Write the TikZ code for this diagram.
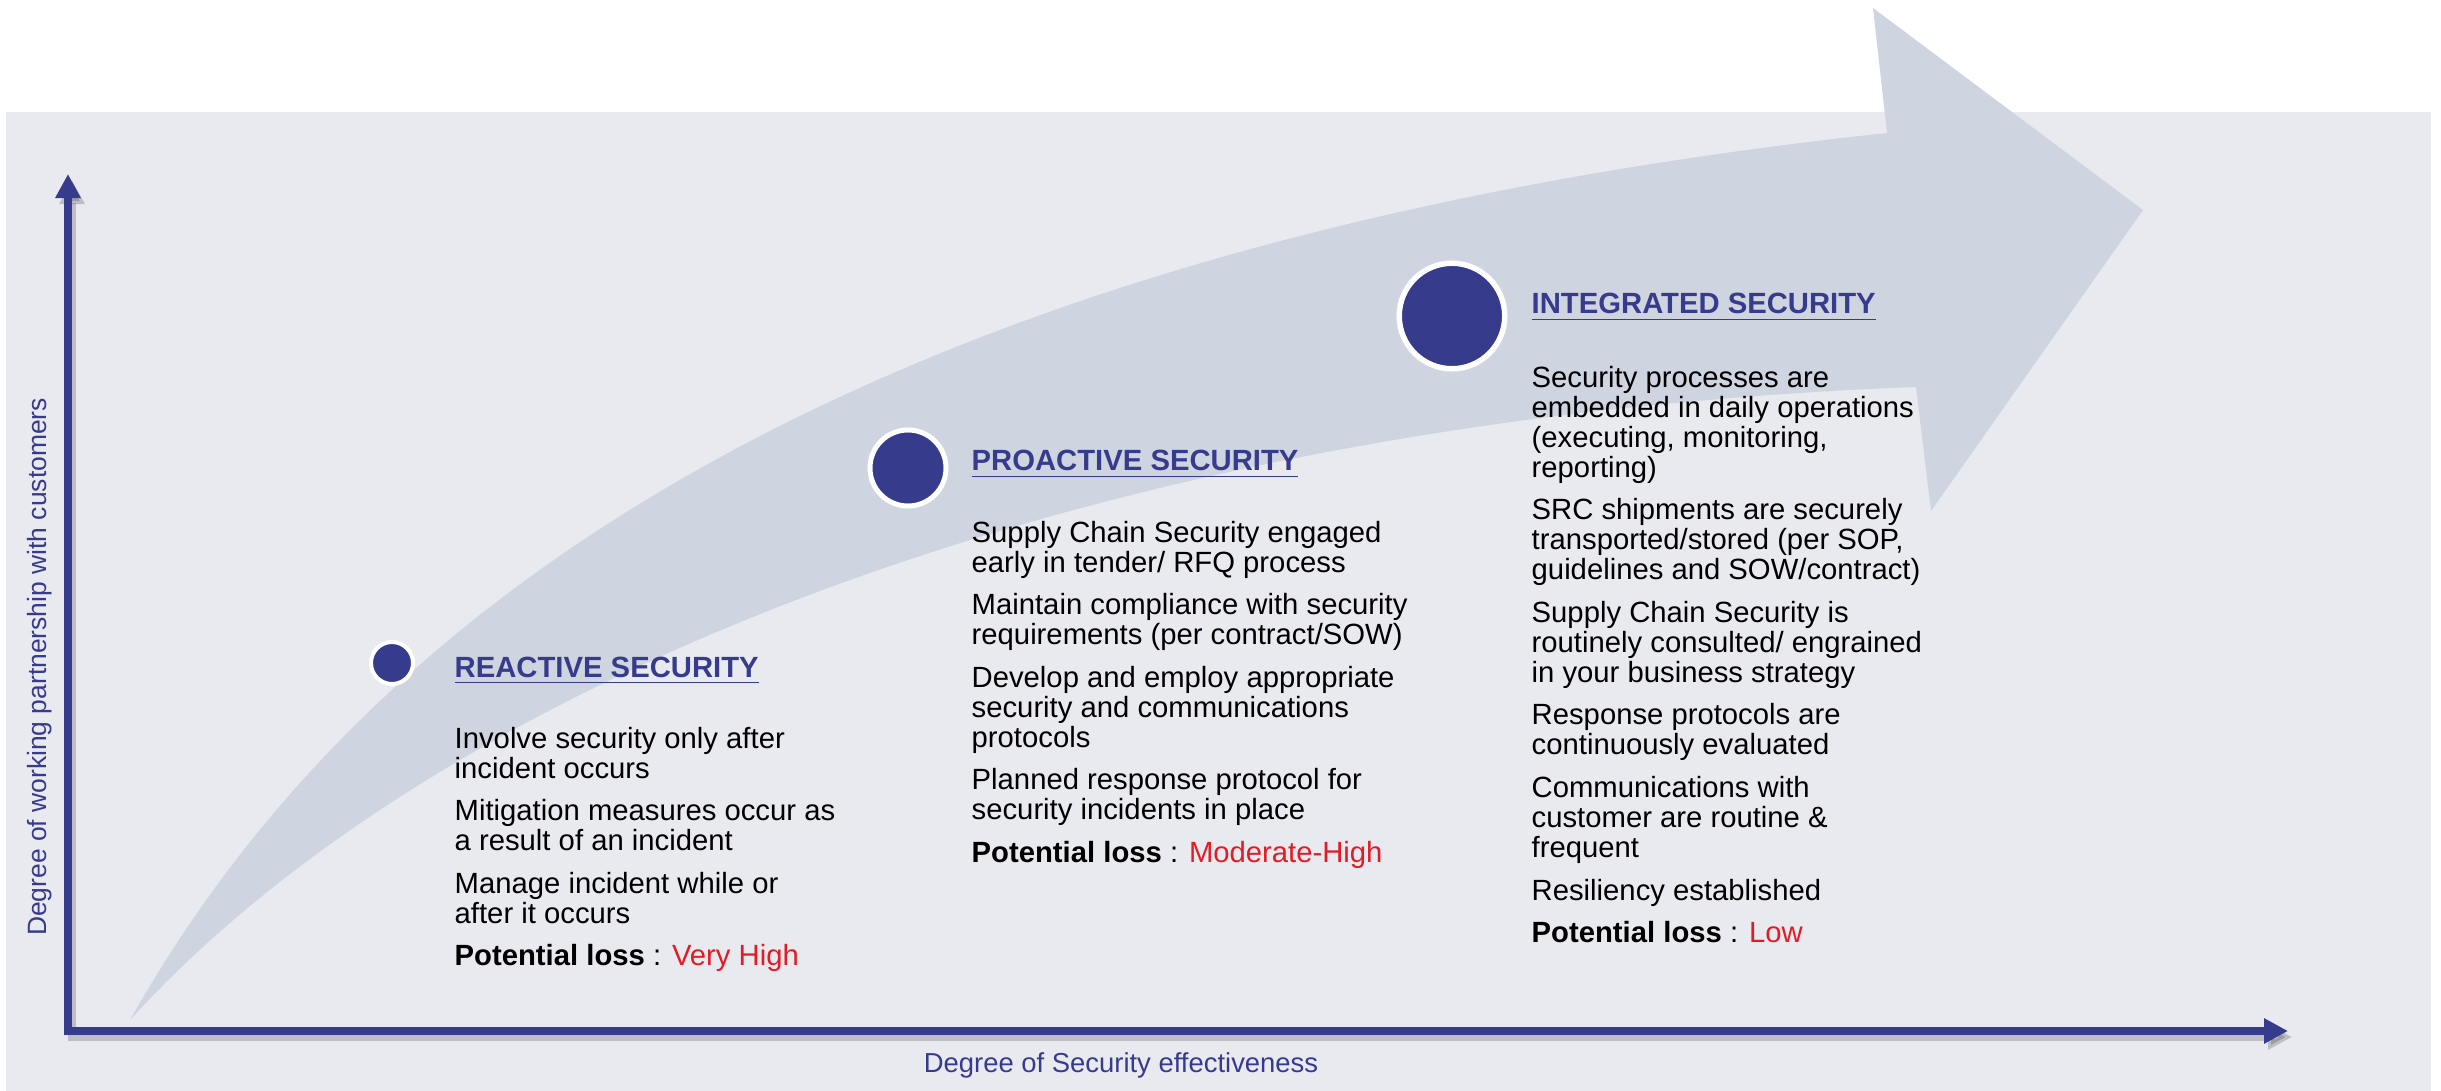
\documentclass[tikz,border=0pt]{standalone}
\usepackage{fontspec}
\setmainfont{Liberation Sans}
\usepackage{tikz}
\usetikzlibrary{arrows.meta}
\usetikzlibrary{positioning}

\definecolor{bgray}{RGB}{233,233,240}
\definecolor{flow}{RGB}{207,212,225}
\definecolor{navy}{RGB}{55,59,140}
\definecolor{lossred}{RGB}{226,28,38}

\newcommand{\itemfont}{\fontsize{8.32}{8.54}\selectfont}
\newcommand{\stagebody}[1]{\parbox[t]{5cm}{\itemfont\setlength{\parskip}{3.56pt}\raggedright #1}}
\newcommand{\loss}[1]{\textbf{Potential loss} : \textcolor{lossred}{#1}}

\begin{document}
\begin{tikzpicture}[x=0.01cm, y=-0.01cm, >={Triangle[length=0.24cm, width=0.24cm]}]
	\tikzstyle{dot}=[circle, fill=navy, draw=white, inner sep=0pt, outer sep=0pt]
	\tikzstyle{stage}=[anchor=base west, inner sep=0pt, text=navy, font=\fontsize{8.32}{10}\selectfont\bfseries]
	\tikzstyle{body}=[anchor=base west, inner sep=0pt, text=black]
	\tikzstyle{axis}=[draw=navy, line width=0.08cm, line join=miter, <->]
	\tikzstyle{axislabel}=[inner sep=0pt, text=navy]
	
	\useasboundingbox (0,0) rectangle (2441,1091);
	\fill[bgray] (6,112) rectangle (2431,1091);
	
	% the big curved arrow
	\fill[flow] (130,1020) .. controls (300,720) and (700,260) .. (1887,133)
		-- (1873,8) -- (2143,210) -- (1931,511) -- (1916,387)
		.. controls (1050,420) and (420,700) .. (130,1020) -- cycle;
	
	\coordinate (origin) at (68,1031);
	\coordinate (ytop) at (68,174);
	\coordinate (xend) at (2288,1031);
	
	\draw[axis, draw=black, opacity=.18, transform canvas={xshift=0.04cm, yshift=-0.06cm}] (ytop) -- (origin) -- (xend);
	\draw[axis] (ytop) -- (origin) -- (xend);
	
	\node[axislabel, rotate=90, font=\fontsize{7.52}{9}\selectfont] (ylab) at (40,667) {Degree of working partnership with customers};
	\node[axislabel, anchor=base, font=\fontsize{7.8}{9}\selectfont] (xlab) at (1121,1072) {Degree of Security effectiveness};
	
	\node[dot, minimum size=0.42cm, line width=0.04cm] (c1) at (392,663) {};
	\node[dot, minimum size=0.76cm, line width=0.05cm] (c2) at (908,468) {};
	\node[dot, minimum size=1.055cm, line width=0.055cm] (c3) at (1452,316) {};
	
	\node[stage] (h1) at (454,677) {\underline{REACTIVE SECURITY}};
	\node[stage] (h2) at (971,471) {\underline{PROACTIVE SECURITY}};
	\node[stage] (h3) at (1531,314) {\underline{INTEGRATED SECURITY}};
	
	\node[body] (b1) at (454,748) {\stagebody{
		Involve security only after\\ incident occurs\par
		Mitigation measures occur as\\ a result of an incident\par
		Manage incident while or\\ after it occurs\par
		\loss{Very High}}};
	\node[body] (b2) at (971,542) {\stagebody{
		Supply Chain Security engaged\\ early in tender/ RFQ process\par
		Maintain compliance with security\\ requirements (per contract/SOW)\par
		Develop and employ appropriate\\ security and communications\\ protocols\par
		Planned response protocol for\\ security incidents in place\par
		\loss{Moderate-High}}};
	\node[body] (b3) at (1531,387) {\stagebody{
		Security processes are\\ embedded in daily operations\\ (executing, monitoring,\\ reporting)\par
		SRC shipments are securely\\ transported/stored (per SOP,\\ guidelines and SOW/contract)\par
		Supply Chain Security is\\ routinely consulted/ engrained\\ in your business strategy\par
		Response protocols are\\ continuously evaluated\par
		Communications with\\ customer are routine \&\\ frequent\par
		Resiliency established\par
		\loss{Low}}};
	
\end{tikzpicture}
\end{document}
